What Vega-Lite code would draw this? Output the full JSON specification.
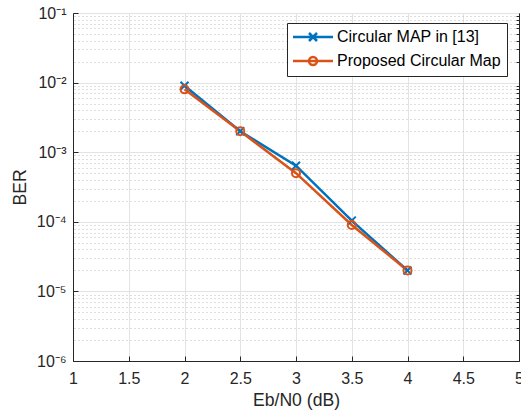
{
  "$schema": "https://vega.github.io/schema/vega-lite/v6.json",
  "width": 446,
  "height": 348,
  "autosize": "none",
  "padding": {"left": 73, "top": 13, "right": 2, "bottom": 54},
  "background": "white",
  "config": {
    "view": {"stroke": "#262626", "strokeWidth": 1},
    "font": "Liberation Sans",
    "axis": {
      "labelFont": "Liberation Sans",
      "titleFont": "Liberation Sans",
      "labelColor": "#262626",
      "titleColor": "#262626",
      "domainColor": "#262626",
      "tickColor": "#262626",
      "labelFontSize": 16,
      "titleFontSize": 17.6,
      "titleFontWeight": "normal"
    }
  },
  "data": {
    "values": [
      {"snr": 2, "ber": 0.009, "series": "Circular MAP in [13]"},
      {"snr": 2.5, "ber": 0.002, "series": "Circular MAP in [13]"},
      {"snr": 3, "ber": 0.00064, "series": "Circular MAP in [13]"},
      {"snr": 3.5, "ber": 0.000104, "series": "Circular MAP in [13]"},
      {"snr": 4, "ber": 0.00002, "series": "Circular MAP in [13]"},
      {"snr": 2, "ber": 0.008, "series": "Proposed Circular Map"},
      {"snr": 2.5, "ber": 0.002, "series": "Proposed Circular Map"},
      {"snr": 3, "ber": 0.0005, "series": "Proposed Circular Map"},
      {"snr": 3.5, "ber": 0.00009, "series": "Proposed Circular Map"},
      {"snr": 4, "ber": 0.00002, "series": "Proposed Circular Map"}
    ]
  },
  "resolve": {"axis": {"y": "independent"}},
  "encoding": {
    "x": {
      "field": "snr",
      "type": "quantitative",
      "scale": {"domain": [1, 5], "nice": false},
      "axis": {
        "title": "Eb/N0 (dB)",
        "values": [1, 1.5, 2, 2.5, 3, 3.5, 4, 4.5, 5],
        "format": "~g",
        "grid": true,
        "gridColor": "#e3e3e3",
        "tickSize": -5,
        "labelPadding": 14,
        "labelFlush": false,
        "labelOverlap": false,
        "titlePadding": 5
      }
    }
  },
  "layer": [
    {
      "mark": {"type": "point", "opacity": 0},
      "encoding": {
        "y": {
          "field": "ber",
          "type": "quantitative",
          "axis": {
            "orient": "right",
            "values": [2e-6,3e-6,4e-6,5e-6,6e-6,7e-6,8e-6,9e-6,2e-5,3e-5,4e-5,5e-5,6e-5,7e-5,8e-5,9e-5,2e-4,3e-4,4e-4,5e-4,6e-4,7e-4,8e-4,9e-4,2e-3,3e-3,4e-3,5e-3,6e-3,7e-3,8e-3,9e-3,2e-2,3e-2,4e-2,5e-2,6e-2,7e-2,8e-2,9e-2],
            "labels": false,
            "title": null,
            "grid": true,
            "gridColor": "#bdbdbd",
            "gridDash": [1, 3],
            "tickSize": -3,
            "domain": true
          }
        }
      }
    },
    {
      "mark": {"type": "line", "strokeWidth": 2.5},
      "encoding": {
        "y": {
          "field": "ber",
          "type": "quantitative",
          "scale": {"type": "log", "domain": [1e-6, 0.1], "nice": false},
          "axis": {
            "orient": "left",
            "title": "BER",
            "values": [1e-6, 1e-5, 1e-4, 1e-3, 1e-2, 1e-1],
            "labelExpr": "'10' + ['⁻⁶','⁻⁵','⁻⁴','⁻³','⁻²','⁻¹'][round(log(datum.value)/LN10)+6]",
            "grid": true,
            "gridColor": "#e3e3e3",
            "tickSize": -5,
            "labelPadding": 12,
            "titlePadding": 7
          }
        },
        "color": {
          "field": "series",
          "type": "nominal",
          "scale": {"domain": ["Circular MAP in [13]", "Proposed Circular Map"], "range": ["#0072BD", "#D95319"]},
          "legend": {
            "title": null,
            "orient": "none",
            "legendX": 214,
            "legendY": 10,
            "labelFont": "Liberation Sans",
            "labelFontSize": 16,
            "labelColor": "#000000",
            "labelLimit": 400,
            "padding": 6,
            "rowPadding": 6,
            "symbolType": "stroke",
            "symbolSize": 64,
            "symbolStrokeWidth": 2.5,
            "labelOffset": 28,
            "fillColor": "white",
            "strokeColor": "#262626",
            "encode": {
              "symbols": {
                "update": {
                  "shape": {"signal": "datum.value === 'Circular MAP in [13]' ? 'M-2,0L8,0M2,-1L4,1M2,1L4,-1' : 'M-2,0L8,0M2,0A1,1,0,1,0,4,0A1,1,0,1,0,2,0'"},
                  "fill": {"value": "transparent"}
                }
              }
            }
          }
        }
      }
    },
    {
      "transform": [{"filter": "datum.series === 'Circular MAP in [13]'"}],
      "mark": {"type": "point", "filled": false, "strokeWidth": 2, "size": 64, "opacity": 1, "shape": "M-1,-1L1,1M-1,1L1,-1", "stroke": "#0072BD"},
      "encoding": {
        "y": {"field": "ber", "type": "quantitative", "axis": null}
      }
    },
    {
      "transform": [{"filter": "datum.series === 'Proposed Circular Map'"}],
      "mark": {"type": "point", "filled": false, "strokeWidth": 2, "size": 64, "opacity": 1, "shape": "circle", "stroke": "#D95319"},
      "encoding": {
        "y": {"field": "ber", "type": "quantitative", "axis": null}
      }
    }
  ]
}
